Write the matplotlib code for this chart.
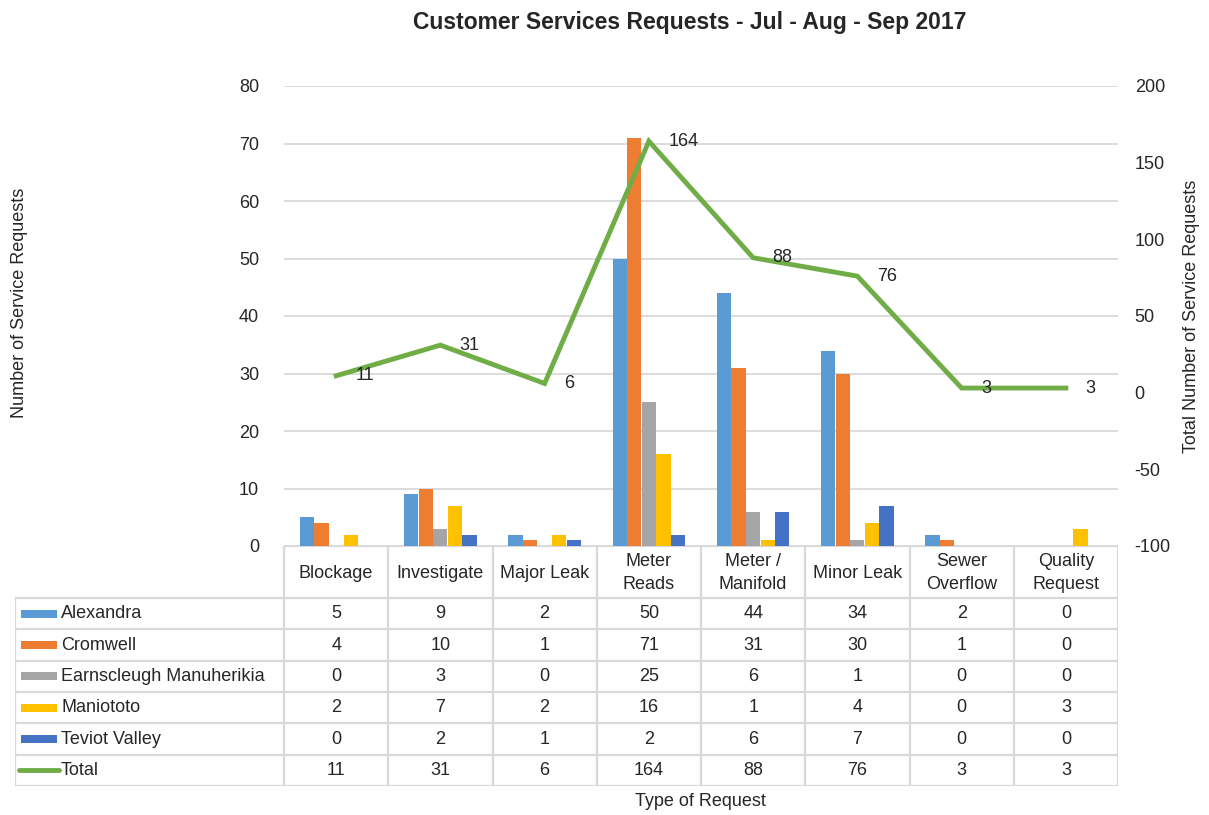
import matplotlib
matplotlib.use('Agg')
import matplotlib.pyplot as plt
import numpy as np

plt.rcParams['font.family'] = ['Liberation Sans', 'DejaVu Sans']
plt.rcParams['axes.unicode_minus'] = False

categories = ['Blockage', 'Investigate', 'Major Leak', 'Meter\nReads', 'Meter /\nManifold',
              'Minor Leak', 'Sewer\nOverflow', 'Quality\nRequest']
series_names = ['Alexandra', 'Cromwell', 'Earnscleugh Manuherikia', 'Maniototo', 'Teviot Valley']
alexandra = [5, 9, 2, 50, 44, 34, 2, 0]
cromwell = [4, 10, 1, 71, 31, 30, 1, 0]
earnscleugh = [0, 3, 0, 25, 6, 1, 0, 0]
maniototo = [2, 7, 2, 16, 1, 4, 0, 3]
teviot = [0, 2, 1, 2, 6, 7, 0, 0]
total = [11, 31, 6, 164, 88, 76, 3, 3]

colors = ['#5B9BD5', '#ED7D31', '#A5A5A5', '#FFC000', '#4472C4']
line_color = '#70AD47'
grid_color = '#D9D9D9'
text_color = '#262626'
fs = 13

W, H = 1209, 815
fig = plt.figure(figsize=(W / 100, H / 100), dpi=100)

# pixel box of plot area
px_l, px_r, px_t, px_b = 284, 1118, 86, 546
ax = fig.add_axes([px_l / W, 1 - px_b / H, (px_r - px_l) / W, (px_b - px_t) / H])

n = len(categories)
x = np.arange(n)
bw = 0.14
all_series = [alexandra, cromwell, earnscleugh, maniototo, teviot]
for i, (vals, c) in enumerate(zip(all_series, colors)):
    ax.bar(x + (i - 2) * bw, vals, width=bw * 0.97, color=c, zorder=3)

ax.set_xlim(-0.5, n - 0.5)
ax.set_ylim(0, 80)
ax.set_yticks(range(0, 81, 10))
ax.set_xticks([])
ax.grid(axis='y', color=grid_color, linewidth=1.3, zorder=0)
for s in ax.spines.values():
    s.set_visible(False)
ax.tick_params(axis='y', length=0, labelsize=fs, colors=text_color, pad=18)

ax2 = ax.twinx()
ax2.plot(x, total, color=line_color, linewidth=3.5, zorder=5, solid_joinstyle='miter')
ax2.set_ylim(-100, 200)
ax2.set_yticks(range(-100, 201, 50))
for s in ax2.spines.values():
    s.set_visible(False)
ax2.tick_params(axis='y', length=0, labelsize=fs, colors=text_color, pad=12)
for xi, v in zip(x, total):
    ax2.annotate(str(v), (xi, v), xytext=(14, 0), textcoords='offset points',
                 ha='left', va='center', fontsize=fs, color=text_color, zorder=6)

fig.text(690 / W, 1 - 22 / H, 'Customer Services Requests - Jul - Aug - Sep 2017',
         ha='center', va='center', fontsize=16.5, fontweight='bold', color=text_color)
fig.text(20 / W, 1 - 303 / H, 'Number of Service Requests', rotation=90,
         ha='center', va='center', fontsize=fs, color=text_color)
fig.text(1192 / W, 1 - 316 / H, 'Total Number of Service Requests', rotation=90,
         ha='center', va='center', fontsize=fs, color=text_color)

# data table below the chart
tb_l, tb_top, tb_hdr, tb_bot = 15, 546, 598, 786
axt = fig.add_axes([tb_l / W, 1 - tb_bot / H, (px_r - tb_l) / W, (tb_bot - tb_top) / H])
unit = (px_r - px_l) / n
axt.set_xlim(-0.5 - (px_l - tb_l) / unit, n - 0.5)
axt.set_ylim(tb_bot, tb_top)
axt.axis('off')

row_names = series_names + ['Total']
row_vals = all_series + [total]
nrows = len(row_names)
rh = (tb_bot - tb_hdr) / nrows
lw = 1.6
x_left = axt.get_xlim()[0]

# horizontal lines
axt.plot([-0.5, n - 0.5], [tb_top, tb_top], color=grid_color, lw=lw)
for r in range(nrows + 1):
    yy = tb_hdr + r * rh
    axt.plot([x_left, n - 0.5], [yy, yy], color=grid_color, lw=lw)
# vertical lines
for b in np.arange(n + 1) - 0.5:
    axt.plot([b, b], [tb_top, tb_bot], color=grid_color, lw=lw)
axt.plot([x_left, x_left], [tb_hdr, tb_bot], color=grid_color, lw=lw)

for ci, cat in enumerate(categories):
    axt.text(ci, (tb_top + tb_hdr) / 2 + 1, cat, ha='center', va='center', fontsize=fs,
             color=text_color, linespacing=1.4)

key_x0 = x_left + 6 / unit
key_x1 = x_left + 42 / unit
for r, (name, vals) in enumerate(zip(row_names, row_vals)):
    yc = tb_hdr + (r + 0.5) * rh
    if r < len(series_names):
        axt.fill_between([key_x0, key_x1], yc - 4, yc + 4, color=colors[r], lw=0)
    else:
        axt.plot([key_x0 - 2 / unit, key_x1 + 2 / unit], [yc, yc], color=line_color, lw=3.5,
                 solid_capstyle='round')
    axt.text(key_x1 + 4 / unit, yc, name, ha='left', va='center', fontsize=fs, color=text_color)
    for ci, v in enumerate(vals):
        axt.text(ci, yc, str(v), ha='center', va='center', fontsize=fs, color=text_color)

fig.text(700 / W, 1 - 801 / H, 'Type of Request', ha='center', va='center',
         fontsize=fs, color=text_color)

fig.savefig('out.png', dpi=100)
